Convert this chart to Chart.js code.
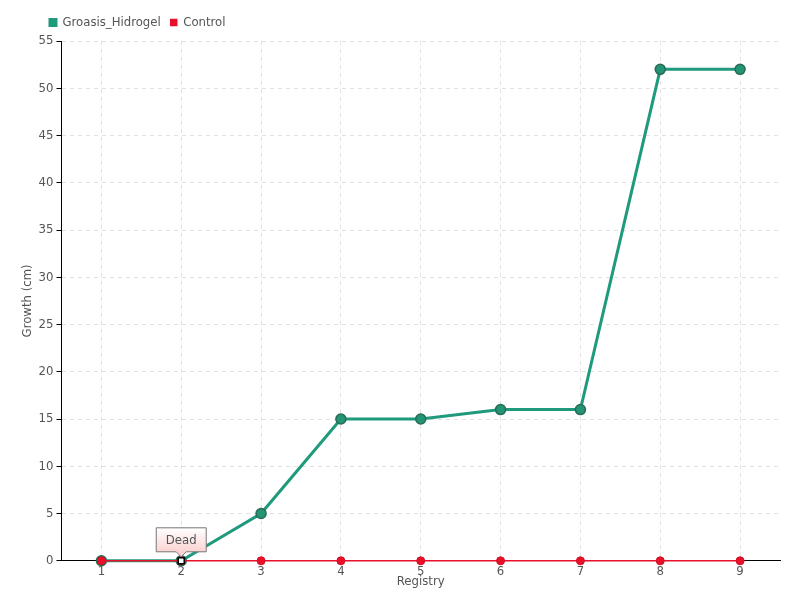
<!DOCTYPE html>
<html>
<head>
<meta charset="utf-8">
<script src="https://cdn.jsdelivr.net/npm/chart.js@4/dist/chart.umd.min.js"></script>
<style>
  body { margin: 0; background: #fff; }
  #wrap { width: 800px; height: 600px; }
</style>
</head>
<body>
<div id="wrap"><canvas id="growthChart"></canvas></div>
<script>
// dados
const registros = ['1', '2', '3', '4', '5', '6', '7', '8', '9'];
const groasis = [0, 0, 5, 15, 15, 16, 16, 52, 52];
const control = [0, 0, 0, 0, 0, 0, 0, 0, 0];
const deadIndex = 1;
const deadLabel = 'Dead';

const fonte = "'Liberation Sans Narrow', 'DejaVu Sans Condensed', 'Roboto', sans-serif";
Chart.defaults.font.family = fonte;
Chart.defaults.font.size = 13;
Chart.defaults.color = '#555';

// desloca a legenda para a direita
const legendShift = {
  id: 'legendShift',
  afterLayout(chart) {
    if (chart.legend) {
      chart.legend.left += 20;
      chart.legend.right += 20;
      chart.legend.top -= 2;
      chart.legend.bottom -= 2;
    }
  }
};

// anotação "Dead" + marcador quadrado
const deadPlugin = {
  id: 'deadPlugin',
  afterDatasetsDraw(chart) {
    const ctx = chart.ctx;
    const x = chart.scales.x.getPixelForValue(deadIndex);
    const y = chart.scales.y.getPixelForValue(control[deadIndex]);
    ctx.save();
    // marcador
    ctx.fillStyle = '#fff';
    ctx.strokeStyle = '#000';
    ctx.lineWidth = 1.5;
    ctx.fillRect(x - 3, y - 3, 6, 6);
    ctx.strokeRect(x - 3, y - 3, 6, 6);
    // caixa
    const w = 50, h = 24;
    const bx = x - w / 2, by = y - 33;
    const grad = ctx.createLinearGradient(0, by, 0, by + h);
    grad.addColorStop(0, '#ffffff');
    grad.addColorStop(1, '#fbd3d3');
    ctx.beginPath();
    ctx.moveTo(bx, by);
    ctx.lineTo(bx + w, by);
    ctx.lineTo(bx + w, by + h);
    ctx.lineTo(x + 5, by + h);
    ctx.lineTo(x, by + h + 5);
    ctx.lineTo(x - 5, by + h);
    ctx.lineTo(bx, by + h);
    ctx.closePath();
    ctx.fillStyle = grad;
    ctx.fill();
    ctx.strokeStyle = '#777';
    ctx.lineWidth = 1;
    ctx.stroke();
    ctx.fillStyle = '#555';
    ctx.font = '13px ' + fonte;
    ctx.textAlign = 'center';
    ctx.textBaseline = 'middle';
    ctx.fillText(deadLabel, x, by + h / 2 + 1);
    ctx.restore();
  }
};

const data = {
  labels: registros,
  datasets: [{
    label: 'Groasis_Hidrogel',
    data: groasis,
    borderColor: '#1f9a7c',
    backgroundColor: '#1f9a7c',
    borderWidth: 3,
    pointRadius: 5,
    pointBackgroundColor: '#239474',
    pointBorderColor: '#2a6b56',
    pointBorderWidth: 1.5,
    tension: 0,
    clip: false,
    order: 1
  },
  {
    label: 'Control',
    data: control,
    borderColor: '#e8102a',
    backgroundColor: '#e8102a',
    borderWidth: 1.5,
    pointRadius: 4,
    pointBackgroundColor: '#e8102a',
    pointBorderColor: '#d01020',
    pointBorderWidth: 1,
    tension: 0,
    clip: false,
    order: 0
  }]
};

const config = {
  type: 'line',
  data: data,
  plugins: [deadPlugin, legendShift],
  options: {
    responsive: true,
    maintainAspectRatio: false,
    animation: false,
    layout: { padding: { left: 20, right: 20, top: 8, bottom: 11 } },
    plugins: {
      legend: {
        position: 'top',
        align: 'start',
        labels: {
          boxWidth: 6,
          boxHeight: 6,
          padding: 10,
          color: '#555',
          sort: (a, b) => a.datasetIndex - b.datasetIndex
        }
      },
      tooltip: { enabled: false }
    },
    scales: {
      x: {
        offset: true,
        grid: {
          color: '#e2e2e2',
          drawTicks: false
        },
        border: { color: '#000', dash: [4, 4], display: true },
        ticks: { color: '#555', padding: 3 },
        title: { display: true, text: 'Registry', color: '#555', padding: { top: -9, bottom: 0 } }
      },
      y: {
        min: 0,
        max: 55,
        grid: {
          color: '#e2e2e2',
          tickColor: '#000',
          tickLength: 5
        },
        border: { color: '#000', dash: [4, 4] },
        ticks: { stepSize: 5, color: '#555', padding: 3 },
        title: { display: true, text: 'Growth (cm)', color: '#555', padding: { top: 0, bottom: 0 } }
      }
    }
  }
};

const myChart = new Chart(document.getElementById('growthChart'), config);
</script>
</body>
</html>
